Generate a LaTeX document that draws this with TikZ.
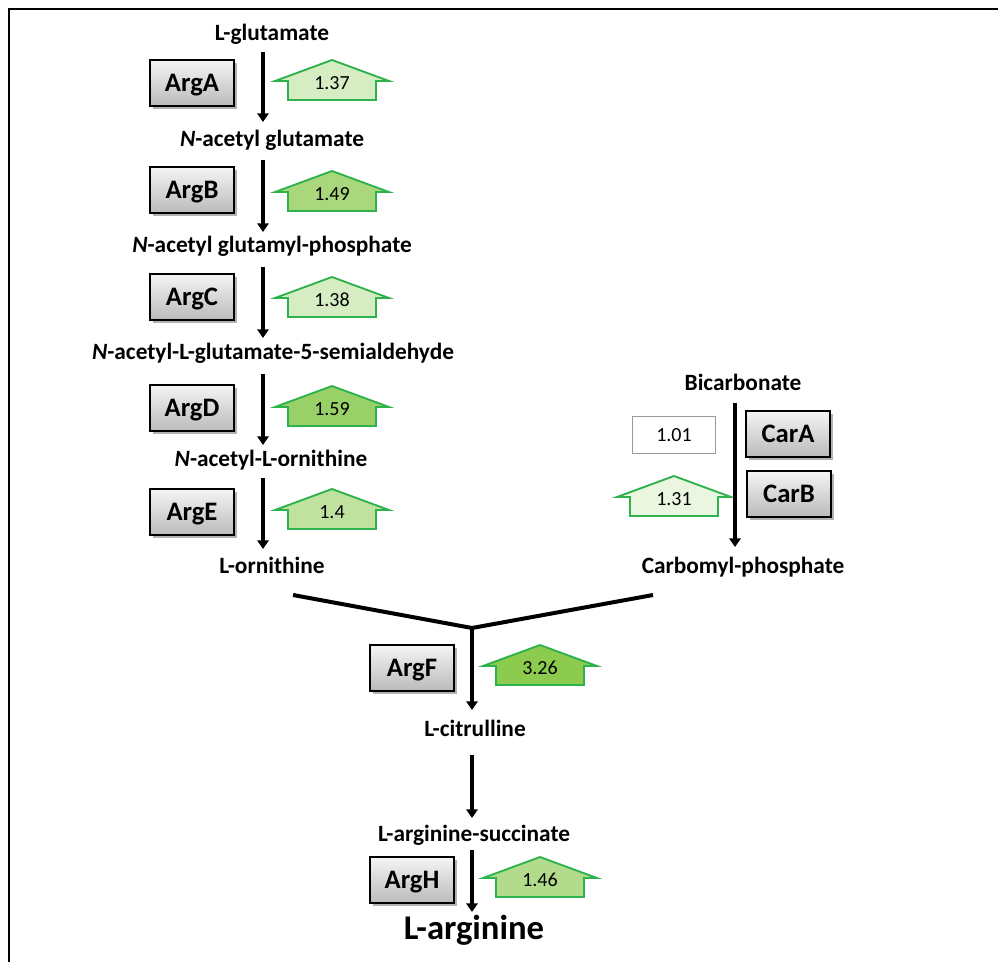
\documentclass[tikz,border=0pt]{standalone}
\usepackage{fontspec}
\setmainfont{Carlito}
\usetikzlibrary{arrows.meta,shadows}
\definecolor{fcgreen}{HTML}{2EB24B}
\definecolor{gA}{HTML}{D6EDC4}
\definecolor{gB}{HTML}{A8D77C}
\definecolor{gC}{HTML}{D6EDC4}
\definecolor{gD}{HTML}{9AD068}
\definecolor{gE}{HTML}{C0E2A0}
\definecolor{gF}{HTML}{8DCB4E}
\definecolor{gH}{HTML}{B2DB8C}
\definecolor{gCarB}{HTML}{EBF6E1}
\newcommand\fcarrow[5]{%
  \draw[fcline, fill=#4] (#2,#3) -- (#2+57,#3+21) -- (#2+44,#3+21) -- (#2+44,#3+40)
    -- (#2-44,#3+40) -- (#2-44,#3+21) -- (#2-57,#3+21) -- cycle;
  \node[num] (#1) at (#2,#3+23) {#5};
}
\begin{document}
\begin{tikzpicture}[x=0.75pt,y=-0.75pt,
  lbl/.style={font=\fontsize{17.5}{20}\selectfont\bfseries, inner sep=0pt, text height=11pt, text depth=0pt},
  biglbl/.style={font=\fontsize{26}{30}\selectfont\bfseries, inner sep=0pt, text height=16.4pt, text depth=0pt},
  enz/.style={draw=black, line width=1pt, top color=black!4, bottom color=black!27,
    minimum width=63pt, minimum height=34.5pt, inner sep=0pt,
    font=\fontsize{20}{22}\selectfont\bfseries, text height=12.6pt, text depth=0pt,
    drop shadow={shadow xshift=2pt, shadow yshift=-2pt, opacity=0.3, fill=black}},
  num/.style={font=\fontsize{15}{17}\selectfont, inner sep=0pt, text height=9.5pt, text depth=0pt},
  fcline/.style={draw=fcgreen, line width=1.4pt, line join=miter},
  flow/.style={line width=3.6pt, -{Triangle[width=8.5pt,length=6.5pt]}},
  branch/.style={line width=3pt, line join=miter}
]
\useasboundingbox (0,0) rectangle (998,962);
\fill[white] (0,0) rectangle (998,962);
% frame (only top and left edges visible)
\draw[line width=1.6pt] (9,962) -- (9,9) -- (998,9);

% left pathway labels
\node[lbl] (glu)  at (272,33)  {L-glutamate};
\node[lbl] (nag)  at (272,139) {\textit{N}-acetyl glutamate};
\node[lbl] (nagp) at (272,245) {\textit{N}-acetyl glutamyl-phosphate};
\node[lbl] (nags) at (273,352) {\textit{N}-acetyl-L-glutamate-5-semialdehyde};
\node[lbl] (nao)  at (271,459) {\textit{N}-acetyl-L-ornithine};
\node[lbl] (orn)  at (272,566) {L-ornithine};

% right branch labels
\node[lbl] (bic)  at (743,383) {Bicarbonate};
\node[lbl] (cbp)  at (743,566) {Carbomyl-phosphate};

% lower labels
\node[lbl] (cit)  at (475,729) {L-citrulline};
\node[lbl] (ars)  at (474,834) {L-arginine-succinate};
\node[biglbl] (arg) at (474,929) {L-arginine};

% enzymes
\node[enz] (argA) at (192,83)  {ArgA};
\node[enz] (argB) at (192,190) {ArgB};
\node[enz] (argC) at (192,297) {ArgC};
\node[enz] (argD) at (192,408) {ArgD};
\node[enz] (argE) at (192,512) {ArgE};
\node[enz] (carA) at (788,434) {CarA};
\node[enz] (carB) at (789,494) {CarB};
\node[enz] (argF) at (412,668) {ArgF};
\node[enz] (argH) at (412,880) {ArgH};

% fold-change arrows
\fcarrow{fcA}{332}{60}{gA}{1.37}
\fcarrow{fcB}{332}{171}{gB}{1.49}
\fcarrow{fcC}{332}{277}{gC}{1.38}
\fcarrow{fcD}{332}{386}{gD}{1.59}
\fcarrow{fcE}{332}{489}{gE}{1.4}
\fcarrow{fcCarB}{674}{476}{gCarB}{1.31}
\fcarrow{fcF}{540}{645}{gF}{3.26}
\fcarrow{fcH}{540}{857}{gH}{1.46}
\node[draw=black!40, line width=1.1pt, minimum width=62pt, minimum height=27.5pt, inner sep=0pt,
  font=\fontsize{15}{17}\selectfont, text height=9.5pt, text depth=0pt] (fcCarA) at (674,435) {1.01};

% shaft coordinates
\coordinate (a1) at (263,52);  \coordinate (a2) at (263,122);
\coordinate (b1) at (263,160); \coordinate (b2) at (263,232);
\coordinate (c1) at (263,267); \coordinate (c2) at (263,338);
\coordinate (d1) at (263,374); \coordinate (d2) at (263,445);
\coordinate (e1) at (263,478); \coordinate (e2) at (263,549);
\coordinate (r1) at (735,403); \coordinate (r2) at (735,547);
\coordinate (jL) at (293,595); \coordinate (jR) at (653,595);
\coordinate (jC) at (472,628); \coordinate (f2) at (472,710);
\coordinate (g1) at (472,755); \coordinate (g2) at (472,818);
\coordinate (h1) at (472,850); \coordinate (h2) at (472,912);

\draw[flow] (a1) -- (a2);
\draw[flow] (b1) -- (b2);
\draw[flow] (c1) -- (c2);
\draw[flow] (d1) -- (d2);
\draw[flow] (e1) -- (e2);
\draw[flow] (r1) -- (r2);
\draw[branch] (jL) -- (jC) -- (jR);
\draw[flow] (jC) -- (f2);
\draw[flow] (g1) -- (g2);
\draw[flow] (h1) -- (h2);
\end{tikzpicture}
\end{document}
